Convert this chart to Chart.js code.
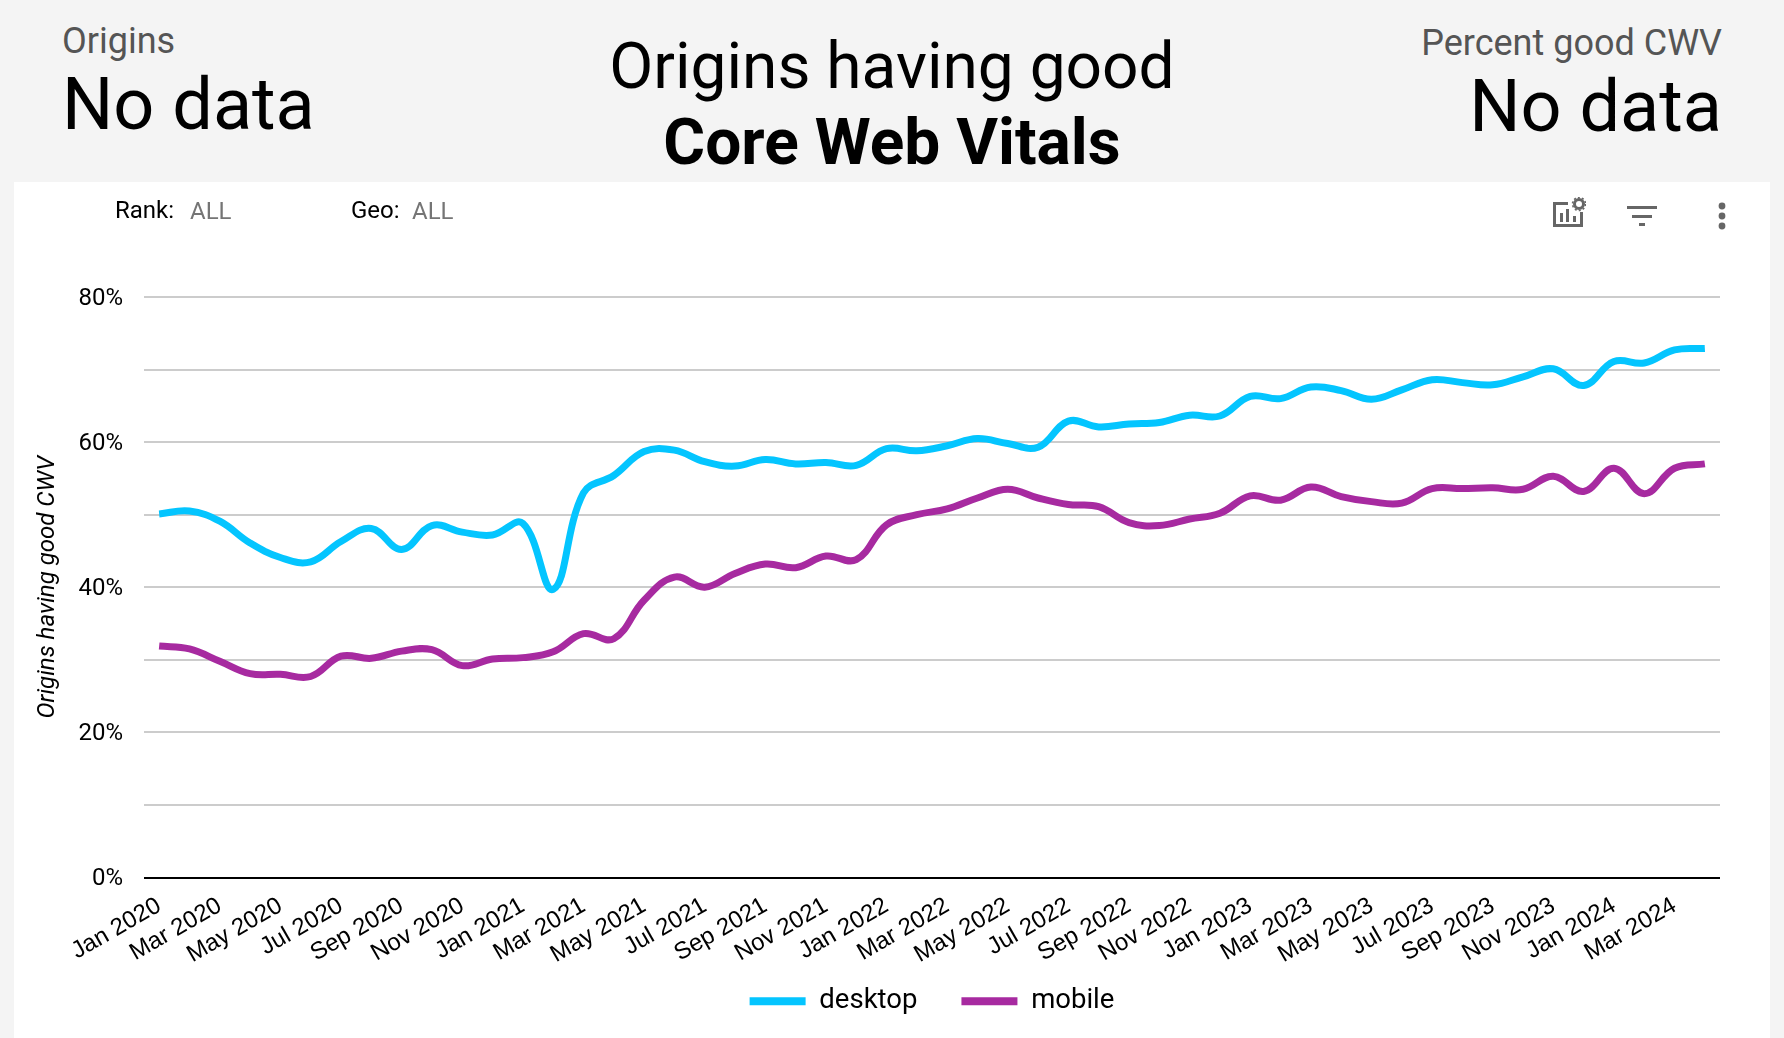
<!DOCTYPE html>
<html>
<head>
<meta charset="utf-8">
<title>Origins having good Core Web Vitals</title>
<script src="https://cdn.jsdelivr.net/npm/chart.js@4"></script>
<style>
  html, body { margin: 0; padding: 0; width: 1784px; height: 1038px; overflow: hidden; background: #f4f4f4; font-family: Roboto, sans-serif; color: #000; }
  .txt { position: absolute; line-height: 1; white-space: nowrap; }
  #panel { position: absolute; left: 14px; top: 182px; width: 1756px; height: 856px; background: #fff; }
  #chartBox { position: absolute; left: 14px; top: 182px; width: 1756px; height: 843px; }
  svg { position: absolute; fill: #666; }
</style>
</head>
<body>
<div class="txt" style="left:62px;top:23px;font-size:36px;color:#555">Origins</div>
<div class="txt" style="left:62px;top:69px;font-size:72px">No data</div>
<div class="txt" style="right:62px;top:25px;font-size:36px;color:#555">Percent good CWV</div>
<div class="txt" style="right:62px;top:71px;font-size:72px">No data</div>
<div class="txt" style="left:0;width:1784px;text-align:center;top:35px;font-size:64px">Origins having good</div>
<div class="txt" style="left:0;width:1784px;text-align:center;top:111px;font-size:64px;font-weight:700">Core Web Vitals</div>
<div id="panel"></div>
<div id="chartBox"><canvas id="cwvChart"></canvas></div>
<div class="txt" style="left:115px;top:198px;font-size:24px">Rank:</div>
<div class="txt" style="left:190px;top:199px;font-size:24px;color:#757575">ALL</div>
<div class="txt" style="left:351px;top:198px;font-size:24px">Geo:</div>
<div class="txt" style="left:412px;top:199px;font-size:24px;color:#757575">ALL</div>
<svg style="left:1552px;top:197px" width="34" height="34" viewBox="0 0 34 34">
  <path d="M1 5h15v3H4v19h24V15h3v15H1z"/><rect x="8" y="16" width="3" height="9"/><rect x="14" y="12" width="3" height="13"/><rect x="21" y="19" width="3" height="6"/>
  <circle cx="27" cy="7" r="4.5" fill="none" stroke="#666" stroke-width="3"/><circle cx="27" cy="7" r="6.5" fill="none" stroke="#666" stroke-width="1.6" stroke-dasharray="2 2.1"/>
</svg>
<svg style="left:1626px;top:204px" width="32" height="24" viewBox="0 0 32 24">
  <rect x="1" y="2" width="30" height="3"/><rect x="6" y="11" width="20" height="3"/><rect x="13" y="19" width="6" height="3"/>
</svg>
<svg style="left:1716px;top:200px" width="12" height="32" viewBox="0 0 12 32">
  <circle cx="6" cy="6" r="3.4"/><circle cx="6" cy="16" r="3.4"/><circle cx="6" cy="26" r="3.4"/>
</svg>
<script>
// monthly values
const months = [
  "Jan 2020","Feb 2020","Mar 2020","Apr 2020","May 2020","Jun 2020","Jul 2020","Aug 2020","Sep 2020","Oct 2020","Nov 2020","Dec 2020",
  "Jan 2021","Feb 2021","Mar 2021","Apr 2021","May 2021","Jun 2021","Jul 2021","Aug 2021","Sep 2021","Oct 2021","Nov 2021","Dec 2021",
  "Jan 2022","Feb 2022","Mar 2022","Apr 2022","May 2022","Jun 2022","Jul 2022","Aug 2022","Sep 2022","Oct 2022","Nov 2022","Dec 2022",
  "Jan 2023","Feb 2023","Mar 2023","Apr 2023","May 2023","Jun 2023","Jul 2023","Aug 2023","Sep 2023","Oct 2023","Nov 2023","Dec 2023",
  "Jan 2024","Feb 2024","Mar 2024","Apr 2024"
];
const desktop = [
  50.1,50.5,49.1,46.1,44.1,43.5,46.3,48.1,45.2,48.5,47.6,47.2,
  48.8,39.7,53.0,55.4,58.7,58.9,57.3,56.7,57.6,57.0,57.2,56.8,
  59.1,58.8,59.5,60.5,59.8,59.3,62.9,62.1,62.5,62.7,63.7,63.6,
  66.3,66.0,67.6,67.1,65.9,67.2,68.6,68.2,67.9,69.0,70.1,67.8,
  71.1,70.9,72.7,72.9
];
const mobile = [
  31.9,31.5,29.8,28.1,28.0,27.7,30.5,30.2,31.2,31.4,29.2,30.1,
  30.3,31.1,33.6,32.9,38.2,41.4,40.0,41.9,43.2,42.7,44.3,43.8,
  48.6,50.0,50.8,52.3,53.5,52.3,51.4,51.1,48.9,48.5,49.4,50.2,
  52.6,52.0,53.8,52.5,51.8,51.6,53.6,53.6,53.7,53.5,55.3,53.2,
  56.4,52.9,56.4,57.0
];

// the rotated labels reach below the x scale box, so let them draw past it
const unclipXLabels = {
  id: "unclipXLabels",
  afterLayout: (chart) => { chart.scales.x.bottom = chart.height; }
};

const ctx = document.getElementById("cwvChart").getContext("2d");

new Chart(ctx, {
  type: "line",
  plugins: [unclipXLabels],
  data: {
    labels: months,
    datasets: [
      { label: "desktop", data: desktop, borderColor: "#04c5ff", backgroundColor: "#04c5ff", borderWidth: 7, tension: 0.4, pointRadius: 0, clip: false },
      { label: "mobile", data: mobile, borderColor: "#a72aa0", backgroundColor: "#a72aa0", borderWidth: 7, tension: 0.4, pointRadius: 0, clip: false }
    ]
  },
  options: {
    responsive: true,
    maintainAspectRatio: false,
    animation: false,
    layout: { padding: { top: 115, right: 50, left: 0, bottom: 0 } },
    plugins: {
      tooltip: { enabled: false },
      legend: {
        position: "bottom",
        fullSize: false,
        labels: {
          boxWidth: 56,
          boxHeight: 8,
          padding: 44,
          color: "#000",
          font: { family: "Roboto", size: 27.5 },
          // flat swatches, without the thick line border around them
          generateLabels: (chart) =>
            Chart.defaults.plugins.legend.labels.generateLabels(chart).map((item) => ({ ...item, lineWidth: 0 }))
        }
      }
    },
    scales: {
      x: {
        offset: true,
        grid: { display: false },
        border: { display: false },
        afterFit: (scale) => { scale.height = 66; },
        ticks: {
          autoSkip: false,
          minRotation: 30,
          maxRotation: 30,
          padding: 6,
          color: "#000",
          font: { family: "Liberation Sans", size: 24 },
          callback: function (value, i) { return i % 2 === 0 ? this.getLabelForValue(value) : ""; }
        }
      },
      y: {
        min: 0,
        max: 80,
        afterFit: (scale) => { scale.width = 130; },
        border: { display: false },
        grid: {
          drawTicks: false,
          lineWidth: 2,
          color: (c) => (c.tick.value === 0 ? "#000" : "#ccc")
        },
        title: {
          display: true,
          text: "Origins having good CWV",
          color: "#000",
          padding: { top: 20, bottom: 0 },
          font: { family: "Roboto", size: 24, style: "italic" }
        },
        ticks: {
          stepSize: 10,
          padding: 21,
          labelOffset: 1.5,
          color: "#000",
          font: { family: "Roboto", size: 24 },
          callback: (v) => (v % 20 === 0 ? v + "%" : "")
        }
      }
    }
  }
});
</script>
</body>
</html>
